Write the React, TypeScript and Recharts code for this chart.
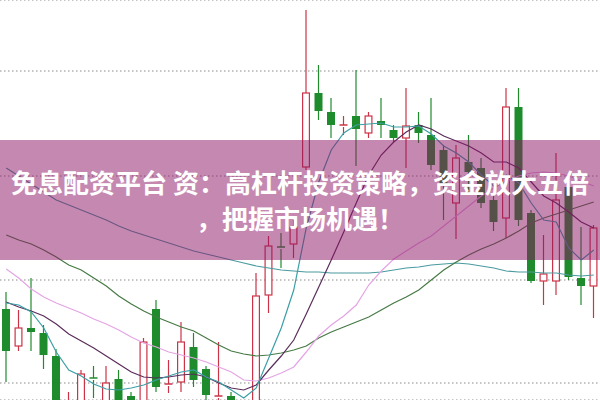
import { ComposedChart, Bar, Line, XAxis, YAxis, CartesianGrid } from "recharts";

// daily K-line, 48 sessions
const days = Array.from({ length: 48 }, (_, i) => `D${i + 1}`);

const open = [9.1, 5.4, 7.2, 6.7, 4.4, -3.0, -2.0, 2.2, -1.5, 2.1, 0.4, -2.0, 9.1, 1.4, 1.8, 5.3, 3.1, 0.2, 0.4, -3.0, -2.0, 10.5, 15.3, 15.6, 23.3, 30.7, 28.8, 27.3, 28.4, 26.7, 27.9, 27.0, 26.2, 27.5, 26.5, 25.0, 19.7, 23.8, 23.2, 20.0, 18.2, 29.3, 18.7, 11.9, 11.9, 21.3, 12.2, 11.4];
const close = [4.9, 7.2, 6.8, 4.5, -2.5, -0.5, 2.6, 2.0, 1.7, -1.0, -2.0, 5.8, 1.3, 1.6, 5.8, 2.0, 0.5, 0.4, -3.0, -2.0, 10.4, 15.4, 15.1, 17.3, 30.7, 28.9, 27.5, 27.5, 27.1, 28.4, 27.5, 26.2, 27.4, 26.7, 23.5, 21.5, 24.2, 22.8, 19.7, 17.8, 29.3, 18.0, 11.9, 12.6, 20.0, 12.3, 11.4, 17.2];
const high = [10.8, 9.0, 12.2, 7.5, 5.1, 0.8, 3.0, 3.4, 3.4, 3.0, 0.8, 6.2, 10.0, 4.0, 7.8, 6.7, 3.4, 5.8, 0.8, -0.5, 12.7, 16.4, 16.7, 18.0, 39.0, 33.5, 30.2, 28.4, 33.0, 28.8, 30.2, 27.5, 31.2, 28.8, 30.2, 25.5, 25.5, 26.5, 24.2, 20.8, 31.2, 31.2, 19.0, 16.5, 24.7, 21.7, 17.3, 17.5];
const low = [1.8, 4.9, 4.9, 3.1, -4.0, -4.5, -3.0, 0.2, -2.5, -2.0, -3.0, -3.0, 0.8, 0.7, 0.8, 1.3, -0.2, -1.0, -4.0, -4.5, -3.0, 8.7, 13.2, 14.2, 23.0, 28.0, 26.2, 26.5, 23.4, 26.2, 26.2, 25.8, 23.2, 25.7, 23.0, 18.0, 16.1, 20.5, 19.2, 16.9, 16.2, 17.4, 11.7, 9.5, 10.5, 12.0, 9.5, 8.2];

const ma5 = [9.7, 9.5, 8.8, 7.2, 4.8, 3.0, 2.4, 1.6, 1.1, 1.0, 1.2, 1.5, 2.0, 2.4, 2.8, 3.0, 2.3, 1.8, 1.0, 0.2, 1.2, 4.2, 7.2, 11.0, 17.2, 21.8, 25.0, 26.7, 27.5, 27.6, 27.7, 27.3, 27.3, 27.4, 26.6, 25.4, 24.7, 23.8, 22.5, 21.4, 22.5, 21.7, 19.7, 18.0, 17.8, 15.2, 14.0, 15.0];
const ma10 = [9.8, 9.3, 8.9, 8.4, 7.6, 6.6, 5.9, 5.2, 4.4, 3.6, 2.8, 2.3, 2.2, 2.3, 2.5, 2.6, 2.3, 1.7, 1.2, 1.0, 1.5, 3.0, 4.4, 6.0, 8.6, 11.3, 14.0, 16.8, 19.7, 22.5, 24.5, 25.8, 26.8, 27.5, 27.1, 26.4, 25.9, 25.4, 24.7, 23.8, 23.8, 23.2, 21.8, 20.4, 19.7, 18.8, 17.8, 17.2];
const ma20 = [13.1, 12.2, 11.1, 10.3, 9.7, 9.2, 8.7, 8.1, 7.6, 7.0, 6.3, 5.7, 5.3, 4.8, 4.5, 4.2, 3.8, 3.3, 2.8, 2.0, 1.9, 2.2, 2.7, 3.3, 4.8, 6.4, 7.5, 8.4, 9.5, 11.5, 12.9, 14.1, 14.9, 15.7, 16.4, 17.4, 18.4, 19.4, 20.4, 21.2, 21.9, 22.4, 22.7, 22.8, 22.7, 22.4, 21.9, 21.4];
const ma30 = [16.5, 16.0, 15.6, 15.0, 14.3, 13.5, 13.0, 12.2, 11.4, 10.4, 9.6, 8.9, 8.3, 7.8, 7.3, 6.9, 6.2, 5.5, 4.9, 4.6, 4.4, 4.5, 4.7, 5.0, 5.4, 6.2, 6.8, 7.3, 7.8, 8.3, 9.0, 9.7, 10.3, 11.0, 12.0, 13.0, 13.8, 14.5, 15.1, 15.6, 16.2, 16.9, 17.7, 18.2, 18.6, 19.0, 19.4, 19.8];
const ma60 = [23.2, 22.4, 21.6, 20.8, 20.0, 19.5, 19.0, 18.5, 18.0, 17.4, 16.9, 16.5, 16.1, 15.7, 15.3, 14.9, 14.6, 14.3, 14.0, 13.7, 13.4, 13.2, 13.0, 12.9, 12.8, 12.8, 12.7, 12.7, 12.7, 12.7, 12.8, 13.0, 13.2, 13.3, 13.5, 13.6, 13.7, 13.6, 13.4, 13.2, 12.9, 12.8, 12.8, 12.7, 12.7, 12.5, 12.4, 12.5];

const gridTicks = [1.7, 12.0, 22.4, 32.9];

const bannerLines = ["免息配资平台 资：高杠杆投资策略，资金放大五倍", "，把握市场机遇！"];

const RED = "#cc3346";
const GREEN = "#1e8c2c";

const data = days.map((day, i) => ({
  day,
  open: open[i],
  close: close[i],
  high: high[i],
  low: low[i],
  ma5: ma5[i],
  ma10: ma10[i],
  ma20: ma20[i],
  ma30: ma30[i],
  ma60: ma60[i],
}));

// draws wick + body inside the [low, high] bar rectangle that recharts gives us
const Candle = (props: any) => {
  const { x, y, width, height, payload } = props;
  if (!payload || height == null) return null;
  const { open: o, close: c, high: h, low: l } = payload;
  const up = c >= o;
  const color = up ? RED : GREEN;
  const ratio = h === l ? 0 : height / (h - l);
  const py = (v: number) => y + (h - v) * ratio;
  const top = py(Math.max(o, c));
  const bottom = py(Math.min(o, c));
  const cx = x + width / 2;
  const bodyH = Math.max(bottom - top, 1);

  return (
    <g>
      <line x1={cx} x2={cx} y1={y} y2={top} stroke={color} strokeWidth={1.2} />
      <line x1={cx} x2={cx} y1={top + bodyH} y2={y + height} stroke={color} strokeWidth={1.2} />
      {bodyH <= 2 ? (
        <line x1={x} x2={x + width} y1={top} y2={top} stroke={color} strokeWidth={1.5} />
      ) : up ? (
        <rect x={x + 0.6} y={top} width={width - 1.2} height={bodyH} fill="#fff" stroke={color} strokeWidth={1.2} />
      ) : (
        <rect x={x} y={top} width={width} height={bodyH} fill={color} />
      )}
    </g>
  );
};

const maLines = [
  { key: "ma60", color: "#4a9aa0" },
  { key: "ma30", color: "#467a44" },
  { key: "ma20", color: "#e4a4e4" },
];
const maTop = [
  { key: "ma10", color: "#5a2d5a" },
  { key: "ma5", color: "#3c9fa6" },
];

export default function App() {
  return (
    <div style={{ position: "absolute", left: 0, top: 0, width: 600, height: 400, background: "#fff" }}>
      <ComposedChart width={600} height={400} data={data} margin={{ top: 0, right: 0, bottom: 0, left: 0 }}>
        <CartesianGrid vertical={false} stroke="#8a8a8a" strokeDasharray="1.5 2.5" />
        <XAxis dataKey="day" hide />
        <YAxis type="number" domain={[0, 40]} ticks={gridTicks} allowDataOverflow hide />
        {maLines.map((m) => (
          <Line key={m.key} type="linear" dataKey={m.key} stroke={m.color} strokeWidth={1.2} dot={false} activeDot={false} isAnimationActive={false} />
        ))}
        <Bar dataKey={(d: any) => [d.low, d.high]} barSize={8} shape={Candle} activeBar={false} isAnimationActive={false} />
        {maTop.map((m) => (
          <Line key={m.key} type="linear" dataKey={m.key} stroke={m.color} strokeWidth={1.2} dot={false} activeDot={false} isAnimationActive={false} />
        ))}
      </ComposedChart>
      <div
        style={{
          position: "absolute",
          left: 0,
          top: 140,
          width: 600,
          height: 120,
          background: "rgba(140, 20, 100, 0.5)",
          color: "#fff",
          fontFamily: '"Noto Sans CJK SC", sans-serif',
          fontWeight: 700,
          fontSize: 26,
          lineHeight: "36px",
          textAlign: "center",
          paddingTop: 24,
          boxSizing: "border-box",
        }}
      >
        {bannerLines.map((t) => (
          <div key={t} style={{ whiteSpace: "nowrap" }}>
            {t}
          </div>
        ))}
      </div>
    </div>
  );
}
